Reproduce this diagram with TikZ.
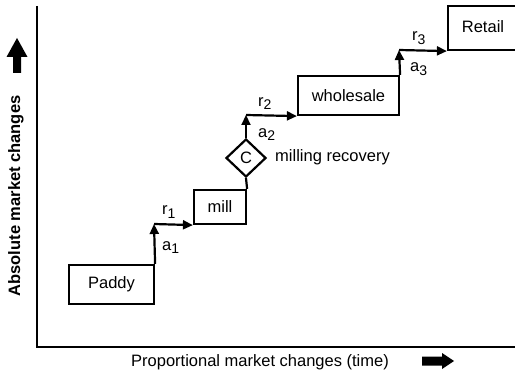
\documentclass[tikz,border=0pt]{standalone}
\usepackage{fontspec}
\setmainfont{Liberation Sans}
\usetikzlibrary{shapes.geometric,arrows.meta}
\tikzset{
  every node/.style={font=\fontsize{16.5}{18}\selectfont},
  stagebox/.style={draw, line width=2.2pt, inner sep=0pt},
  flow/.style={line width=2.2pt, -{Triangle[length=10pt,width=9pt]}},
  plain/.style={line width=2.2pt},
  axisline/.style={line width=1.8pt},
  lbl/.style={anchor=base west, inner sep=0pt},
  blockarrow/.style={fill=black}
}
\newcommand{\sublbl}[2]{#1\raisebox{-3.5pt}{\fontsize{14}{14}\selectfont #2}}
\begin{document}
\begin{tikzpicture}[x=1pt,y=1pt]
\useasboundingbox (0,0) rectangle (515,373);
\clip (0,0) rectangle (515,373);

% axes
\coordinate (ytop) at (37,367);
\coordinate (origin) at (37,26);
\coordinate (xend) at (516,26);
\draw[axisline] (ytop) -- (origin) -- (xend);

% stages
\node[stagebox, minimum width=85, minimum height=39] (paddy) at (111.5,88.5) {Paddy};
\node[stagebox, minimum width=52, minimum height=34] (mill) at (220,166) {mill};
\node[stagebox, diamond, minimum width=40, minimum height=38] (recov) at (246,215) {C};
\node[stagebox, minimum width=101, minimum height=39] (whole) at (348.5,277.5) {wholesale};
\node[stagebox, minimum width=72, minimum height=44] (retail) at (484,345) {};
\node (retailtxt) at (483,346) {Retail};

\node[anchor=west, inner sep=0pt] (recovtxt) at (275,216) {milling recovery};

% connectors
\coordinate (c1) at (154,149);
\coordinate (c2) at (246,258);
\coordinate (c3) at (399,323);
\draw[flow] (paddy.north east) -- (c1);
\draw[flow] (c1) -- (mill.south west);
\draw[plain] (mill.north east) -- (recov.south);
\draw[flow] (recov.north) -- (c2);
\draw[flow] (c2) -- (whole.south west);
\draw[flow] (whole.north east) -- (c3);
\draw[flow] (c3) -- (retail.south west);

% labels
\node[lbl] (r1) at (162,158) {\sublbl{r}{1}};
\node[lbl] (a1) at (162,122.5) {\sublbl{a}{1}};
\node[lbl] (r2) at (258,266.5) {\sublbl{r}{2}};
\node[lbl] (a2) at (258,235.5) {\sublbl{a}{2}};
\node[lbl] (r3) at (412,332) {\sublbl{r}{3}};
\node[lbl] (a3) at (410,301) {\sublbl{a}{3}};

% axis titles
\node[rotate=90, font=\fontsize{16.5}{18}\selectfont\bfseries] (ylab) at (16,177) {Absolute market changes};
\node (xlab) at (260,11) {Proportional market changes (time)};

% block arrows
\fill[blockarrow] (13,300) -- (21,300) -- (21,316) -- (27.5,316) -- (17,335) -- (6.5,316) -- (13,316) -- cycle;
\fill[blockarrow] (422,7.5) -- (442,7.5) -- (442,4) -- (454,12) -- (442,20) -- (442,16.5) -- (422,16.5) -- cycle;
\end{tikzpicture}
\end{document}
